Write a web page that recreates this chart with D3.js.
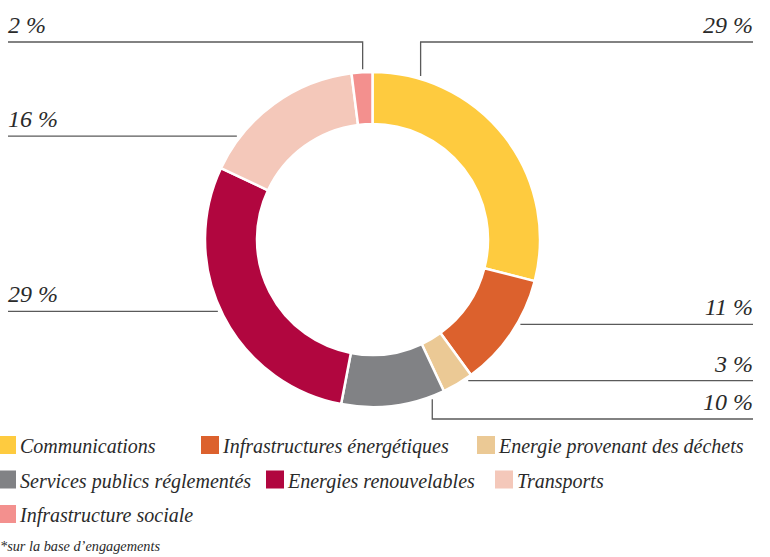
<!DOCTYPE html>
<html>
<head>
<meta charset="utf-8">
<script src="https://cdn.jsdelivr.net/npm/d3@7"></script>
<style>
  html, body { margin: 0; padding: 0; background: #fff; }
  svg { display: block; }
</style>
</head>
<body>
<svg id="chart" width="770" height="557"></svg>
<script>
// Répartition du portefeuille par secteur (en % des engagements)
const categories = [
  "Communications",
  "Infrastructures énergétiques",
  "Energie provenant des déchets",
  "Services publics réglementés",
  "Energies renouvelables",
  "Transports",
  "Infrastructure sociale"
];
const values = [29, 11, 3, 10, 29, 16, 2];
const colors = ["#FECB3F", "#DC612D", "#EBC995", "#818285", "#B1063F", "#F4C8BA", "#F3908E"];
const footnote = "*sur la base d’engagements";

// Leader-line placement: where on its slice each callout attaches (0..1),
// and whether it bends to a fixed row ("elbow") or runs straight out.
const callouts = [
  { at: 0.157, kind: "elbow", rowY: 42 },
  { at: 0.39,  kind: "straight" },
  { at: 0.17,  kind: "straight" },
  { at: 0.13,  kind: "elbow", rowY: 419 },
  { at: 0.52,  kind: "straight" },
  { at: 0.21,  kind: "straight" },
  { at: 0.54,  kind: "elbow", rowY: 42 }
];
// Legend grid: rows of item indices and the left edge of each swatch
const legendRows = [[0, 1, 2], [3, 4, 5], [6]];
const legendX = [[-2, 201, 477], [-2, 266, 495], [-2]];

const FONT = "'Liberation Serif', 'Times New Roman', serif";
const INK = "#2a2a2a";

const cx = 372.5, cy = 239.5;
const rOuter = 167.5, rInner = 115.5, rLead = 170.5;
const marginL = 8, marginR = 753;

const svg = d3.select("#chart")
  .attr("font-family", FONT)
  .attr("font-style", "italic");

const data = categories.map((c, i) => ({ name: c, value: values[i], color: colors[i], callout: callouts[i] }));

const pie = d3.pie().sort(null).value(d => d.value).startAngle(0).endAngle(2 * Math.PI);
const arc = d3.arc().innerRadius(rInner).outerRadius(rOuter);
const arcs = pie(data);

const g = svg.append("g").attr("transform", `translate(${cx},${cy})`);
g.selectAll("path.slice")
  .data(arcs)
  .join("path")
  .attr("class", "slice")
  .attr("d", arc)
  .attr("fill", d => d.data.color)
  .attr("stroke", "#fff")
  .attr("stroke-width", 2.5)
  .attr("stroke-linejoin", "miter");

// Callouts
const fmt = v => `${v} %`;
const leaders = svg.append("g");
arcs.forEach(a => {
  const c = a.data.callout;
  const ang = a.startAngle + (a.endAngle - a.startAngle) * c.at;
  const ax = cx + rLead * Math.sin(ang);
  const ay = cy - rLead * Math.cos(ang);
  const right = ax >= cx;
  const endX = right ? marginR : marginL;
  let pts, lineY;
  if (c.kind === "elbow") {
    lineY = c.rowY;
    pts = [[ax, ay], [ax, lineY], [endX, lineY]];
  } else {
    lineY = ay;
    pts = [[ax, ay], [endX, lineY]];
  }
  leaders.append("path")
    .attr("d", d3.line()(pts))
    .attr("fill", "none")
    .attr("stroke", "#5a5a5a")
    .attr("stroke-width", 1.3);
  leaders.append("text")
    .attr("x", endX)
    .attr("y", lineY - 9)
    .attr("text-anchor", right ? "end" : "start")
    .attr("fill", INK)
    .attr("font-size", 24)
    .text(fmt(a.data.value));
});

// Legend
const legend = svg.append("g");
const rowTop = [436, 470.5, 505];
legendRows.forEach((row, ri) => {
  row.forEach((idx, ci) => {
    const x = legendX[ri][ci];
    const item = legend.append("g").attr("transform", `translate(${x},${rowTop[ri]})`);
    item.append("rect").attr("width", 18).attr("height", 18).attr("fill", colors[idx]);
    item.append("text")
      .attr("x", 22).attr("y", 17)
      .attr("fill", INK)
      .attr("font-size", 20)
      .text(categories[idx]);
  });
});

svg.append("text")
  .attr("x", 0).attr("y", 551)
  .attr("fill", INK)
  .attr("font-size", 14.3)
  .text(footnote);
</script>
</body>
</html>
